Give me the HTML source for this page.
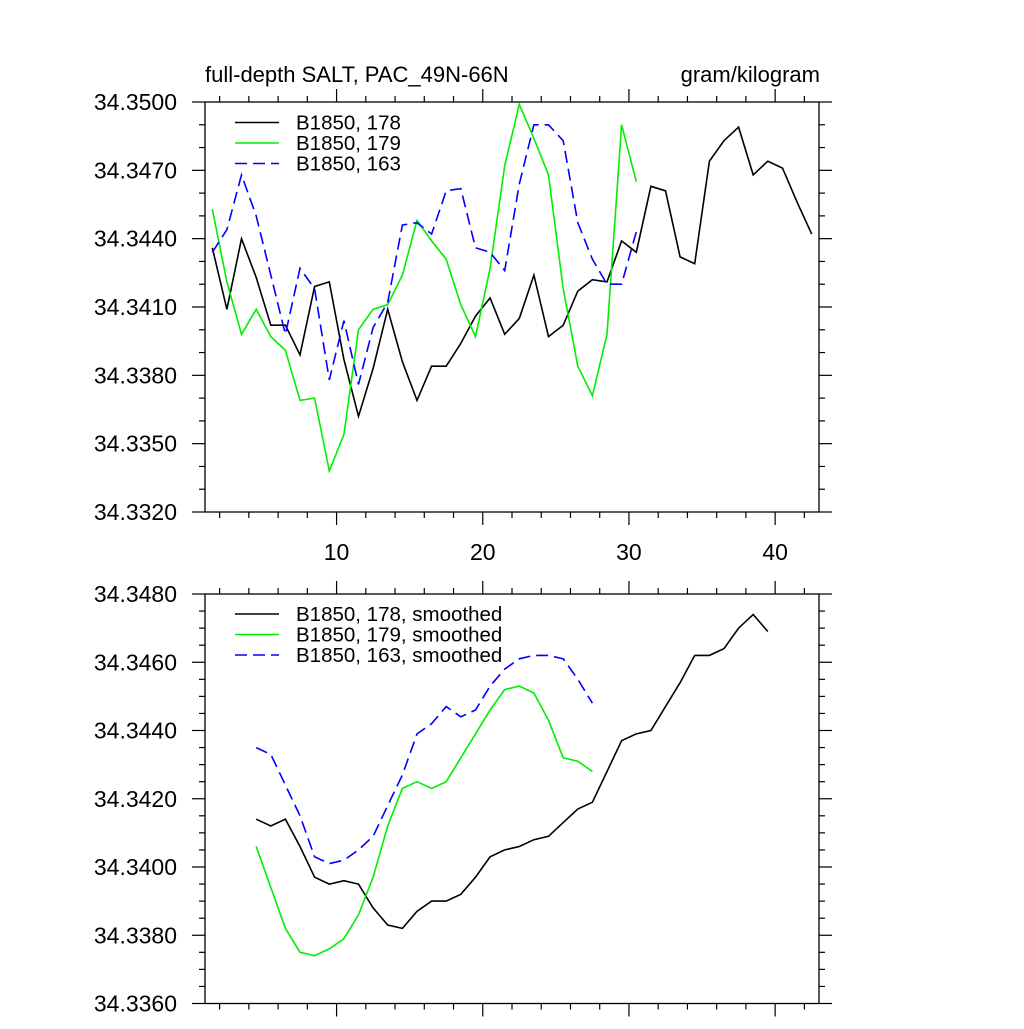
<!DOCTYPE html>
<html><head><meta charset="utf-8"><style>
html,body{margin:0;padding:0;background:#fff;}
svg text{font-family:"Liberation Sans",Arial,sans-serif;fill:#000;}
</style></head><body>
<svg id="chart" width="1024" height="1024" viewBox="0 0 1024 1024" xmlns="http://www.w3.org/2000/svg">
<text x="205" y="82" font-size="22">full-depth SALT, PAC_49N-66N</text>
<text x="820" y="82" font-size="22" text-anchor="end">gram/kilogram</text>
</svg>
<script>
// ---- data ----
const xTickLabels = [10, 20, 30, 40];
const topYTicks = [34.332, 34.335, 34.338, 34.341, 34.344, 34.347, 34.350];
const botYTicks = [34.336, 34.338, 34.340, 34.342, 34.344, 34.346, 34.348];
const startX = 1.5;
const raw178 = [34.3436,34.3409,34.3440,34.3423,34.3402,34.3402,34.3389,34.3419,34.3421,34.3387,34.3362,34.3383,34.3409,34.3386,34.3369,34.3384,34.3384,34.3394,34.3406,34.3414,34.3398,34.3405,34.3424,34.3397,34.3402,34.3417,34.3422,34.3421,34.3439,34.3434,34.3463,34.3461,34.3432,34.3429,34.3474,34.3483,34.3489,34.3468,34.3474,34.3471,34.3456,34.3442];
const raw179 = [34.3453,34.3421,34.3398,34.3409,34.3397,34.3391,34.3369,34.3370,34.3338,34.3354,34.3400,34.3409,34.3411,34.3424,34.3448,34.3439,34.3431,34.3411,34.3397,34.3427,34.3472,34.3499,34.3484,34.3468,34.3418,34.3384,34.3371,34.3398,34.3490,34.3465];
const raw163 = [34.3434,34.3444,34.3468,34.3450,34.3424,34.3398,34.3427,34.3418,34.3378,34.3404,34.3376,34.3401,34.3412,34.3446,34.3447,34.3442,34.3461,34.3462,34.3436,34.3434,34.3426,34.3464,34.3490,34.3490,34.3483,34.3447,34.3431,34.3420,34.3420,34.3443];
const smoothStart = 4.5;
const sm178 = [34.3414,34.3412,34.3414,34.3406,34.3397,34.3395,34.3396,34.3395,34.3388,34.3383,34.3382,34.3387,34.3390,34.3390,34.3392,34.3397,34.3403,34.3405,34.3406,34.3408,34.3409,34.3413,34.3417,34.3419,34.3428,34.3437,34.3439,34.3440,34.3447,34.3454,34.3462,34.3462,34.3464,34.3470,34.3474,34.3469];
const sm179 = [34.3406,34.3394,34.3382,34.3375,34.3374,34.3376,34.3379,34.3386,34.3397,34.3412,34.3423,34.3425,34.3423,34.3425,34.3432,34.3439,34.3446,34.3452,34.3453,34.3451,34.3443,34.3432,34.3431,34.3428];
const sm163 = [34.3435,34.3433,34.3424,34.3415,34.3403,34.3401,34.3402,34.3405,34.3409,34.3418,34.3427,34.3439,34.3442,34.3447,34.3444,34.3446,34.3453,34.3458,34.3461,34.3462,34.3462,34.3461,34.3455,34.3448];

const NS = "http://www.w3.org/2000/svg";
const svg = document.getElementById('chart');
const L = 205, R = 819;
const xs = v => L + (v - 1) / 42 * (R - L);
function mk(tag, attrs, parent){ const e=document.createElementNS(NS,tag); for(const k in attrs) e.setAttribute(k,attrs[k]); (parent||svg).appendChild(e); return e; }

function panel(name, top, bot, ymin, ymax, yTicks, minorStep, showXLabels, series, legendY){
  const ys = v => bot - (v - ymin) / (ymax - ymin) * (bot - top);
  const g = mk('g', {});
  
  
  const tg = mk('g', {stroke:'#000','stroke-width':1.2}, g);
  for (let x = 2; x <= 42; x += 2) {
    const major = x % 10 === 0, len = major ? 13 : 6;
    const px = xs(x);
    mk('line',{x1:px,x2:px,y1:bot,y2:bot+len},tg);
    mk('line',{x1:px,x2:px,y1:top,y2:top-len},tg);
  }
  const nMinor = Math.round((ymax - ymin) / minorStep);
  for (let k = 0; k <= nMinor; k++) {
    const v = ymin + k * minorStep;
    const major = yTicks.some(t => Math.abs(t - v) < 1e-7);
    const len = major ? 13 : 6, py = ys(v);
    mk('line',{x1:L,x2:L-len,y1:py,y2:py},tg);
    mk('line',{x1:R,x2:R+len,y1:py,y2:py},tg);
  }
  yTicks.forEach(t => {
    const tx = mk('text',{x:177,y:ys(t)+8,'font-size':23,'text-anchor':'end'},g);
    tx.textContent = t.toFixed(4);
    
    
  });
  if (showXLabels) xTickLabels.forEach(t => {
    const tx = mk('text',{x:xs(t),y:560,'font-size':23,'text-anchor':'middle'},g);
    tx.textContent = t;
    
    
  });
  series.forEach((s, si) => {
    const pts = s.data.map((v,i) => xs(s.start + i).toFixed(1) + ',' + ys(v).toFixed(1)).join(' ');
    const pl = mk('polyline',{points:pts,fill:'none',stroke:s.color,'stroke-width':1.6,'stroke-linejoin':'miter'},g);
    if (s.dash) pl.setAttribute('stroke-dasharray','12,6');
    
    
    const ly = legendY + si * 20.5;
    const ll = mk('line',{x1:235,x2:279,y1:ly,y2:ly,stroke:s.color,'stroke-width':1.6},g);
    if (s.dash) ll.setAttribute('stroke-dasharray','12,6');
    
    
    const lt = mk('text',{x:296,y:ly+7,'font-size':20.5},g);
    lt.textContent = s.label;
    
    
  });
  const fr = mk('rect',{x:L,y:top,width:R-L,height:bot-top,fill:'none',stroke:'#000','stroke-width':1.3},g);
  
  
}

panel('top-panel', 102, 512, 34.332, 34.350, topYTicks, 0.001, true, [
  {data:raw178, start:startX, color:'#000', label:'B1850, 178'},
  {data:raw179, start:startX, color:'#00ee00', label:'B1850, 179'},
  {data:raw163, start:startX, color:'#0000ff', dash:true, label:'B1850, 163'}
], 122.5);
panel('bottom-panel', 594, 1003.5, 34.336, 34.348, botYTicks, 0.0005, false, [
  {data:sm178, start:smoothStart, color:'#000', label:'B1850, 178, smoothed'},
  {data:sm179, start:smoothStart, color:'#00ee00', label:'B1850, 179, smoothed'},
  {data:sm163, start:smoothStart, color:'#0000ff', dash:true, label:'B1850, 163, smoothed'}
], 614);
</script>
</body></html>
